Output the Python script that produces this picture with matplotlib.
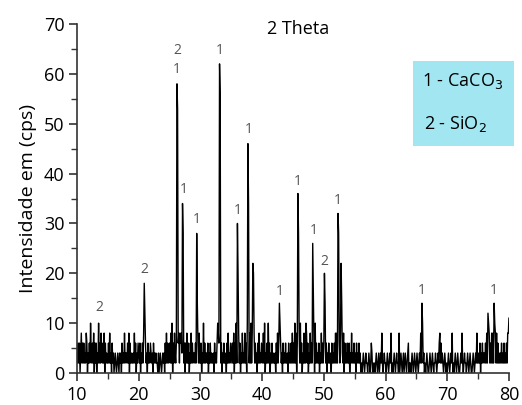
import matplotlib
matplotlib.use("Agg")
import matplotlib.pyplot as plt
import numpy as np

# ---------------- data ----------------
two_theta_start = 10.0
two_theta_step = 0.1

# background counts (each digit d -> 2*d cps), one string per degree 10..79, then 80
background_digits = [
    "2131302413", "1312143021", "3152131403", "1302151314", "2131403121",
    "1314120312", "0121012102", "1203121412", "2131403121", "1214130213",
    "2130213142", "1312031213", "2120312121", "1020121012", "1203141312",
    "3141503142", "1314341434", "2141303141", "1302141312", "2131403141",
    "1302151312", "2130213121", "1203121354", "3141302131", "1203141213",
    "2131403151", "3141302141", "2141305141", "4151405413", "1203141213",
    "2141502131", "5130213121", "1203141315", "3120312131", "1203121314",
    "1315140314", "4151302141", "1541302141", "3141305131", "2130214131",
    "3141302131", "1203121314", "1414131413", "2140312131", "1302141213",
    "1203121312", "0101210121", "1012101320", "1010121012", "0121410121",
    "1012101214", "0101210121", "1040121012", "0121012301", "1012101210",
    "1210121414", "2120101210", "0121012101", "1210121341", "3121012101",
    "0121012140", "1012101210", "0121410121", "1012101210", "0121012141",
    "1213021312", "2131413141", "3141413141", "4131212131", "2131213141",
    "5",
]

peak_pos = [20.9, 26.2, 27.1, 29.4, 33.1, 36.0, 37.7, 38.5, 42.8, 45.8,
            48.2, 50.1, 52.3, 52.8, 65.9, 76.6, 77.6, 80.0]
peak_height = [18, 58, 34, 28, 62, 30, 46, 22, 14, 36,
               26, 20, 32, 22, 14, 12, 14, 11]
peak_inner = [12, 53, 28, 14, 56, 20, 34, 20, 10, 28,
              16, 14, 28, 14, 10, 10, 10, 8]

label_x = [13.6, 20.9, 26.2, 26.2, 33.1, 27.3, 29.4, 36.0, 37.9, 42.9,
           45.7, 48.3, 50.0, 52.3, 65.9, 77.6]
label_y = [13.2, 20.8, 64.6, 60.8, 64.6, 36.8, 30.8, 32.6, 48.8, 16.3,
           38.5, 28.5, 22.3, 34.6, 16.6, 16.6]
label_txt = ["2", "2", "2", "1", "1", "1", "1", "1", "1", "1",
             "1", "1", "2", "1", "1", "1"]

# ---------------- build series ----------------
digits = "".join(background_digits)
counts = np.array([2 * int(c) for c in digits], dtype=float)
x = two_theta_start + two_theta_step * np.arange(len(counts))
for p, h, hi in zip(peak_pos, peak_height, peak_inner):
    i = int(round((p - two_theta_start) / two_theta_step))
    counts[i] = h
    j = i + 1 if i + 1 < len(counts) else i - 1
    counts[j] = max(counts[j], hi)

# ---------------- plot ----------------
plt.rcParams['font.family'] = ['Open Sans', 'DejaVu Sans']
fig = plt.figure(figsize=(5.22, 4.05), dpi=100)
ax = fig.add_axes([0.1475, 0.079, 0.8275, 0.8617])

ax.plot(x, counts, color='black', lw=1.0)

ax.set_xlim(10, 80)
ax.set_ylim(0, 70)
ax.set_xticks(np.arange(10, 81, 10))
ax.set_yticks(np.arange(0, 71, 10))
ax.set_xticks(np.arange(15, 80, 10), minor=True)
ax.set_yticks(np.arange(5, 70, 10), minor=True)
ax.tick_params(which='major', length=6, width=1.2, labelsize=13, pad=3, color='#333333')
ax.tick_params(which='minor', length=4, width=1.0, color='#333333')
for s in ['top', 'right']:
    ax.spines[s].set_visible(False)
for s in ['left', 'bottom']:
    ax.spines[s].set_linewidth(1.2)
    ax.spines[s].set_color('#333333')

ax.set_ylabel("Intensidade em (cps)", fontsize=14, labelpad=5)
ax.text(0.44, 0.985, "2 Theta", transform=ax.transAxes, fontsize=13,
        ha='left', va='center')

for tx, ty, t in zip(label_x, label_y, label_txt):
    ax.text(tx, ty, t, fontsize=10, color='#555555', ha='center', va='center')

# legend box
fig.patches.append(plt.Rectangle((0.791, 0.6395), 0.1935, 0.21,
                                 transform=fig.transFigure,
                                 facecolor='#a2e6f2', edgecolor='none', zorder=5))
fig.text(0.808, 0.80, "1 - CaCO$_3$", fontsize=13, ha='left', va='center', zorder=6)
fig.text(0.812, 0.693, "2 - SiO$_2$", fontsize=13, ha='left', va='center', zorder=6)

fig.savefig("out.png", dpi=100)
